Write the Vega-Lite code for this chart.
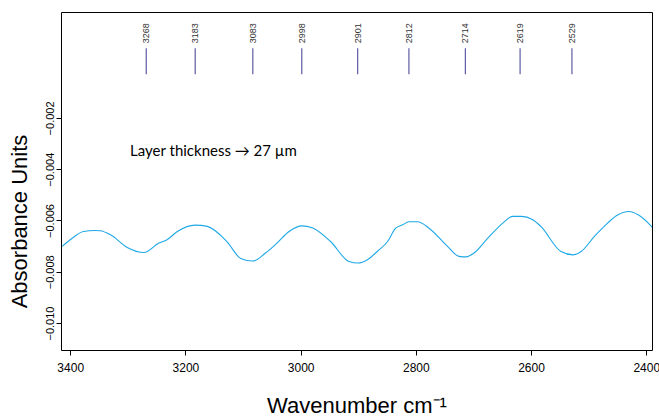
{
  "$schema": "https://vega.github.io/schema/vega-lite/v6.json",
  "autosize": "none",
  "width": 591,
  "height": 338,
  "padding": {"left": 61, "top": 12, "right": 7, "bottom": 67},
  "background": "white",
  "config": {
    "view": {"stroke": "black", "strokeWidth": 1},
    "font": "Liberation Sans"
  },
  "datasets": {
    "spectrum": [
      {"wn": 3414, "abs": -0.00701},
      {"wn": 3400, "abs": -0.00675},
      {"wn": 3377, "abs": -0.00643},
      {"wn": 3357, "abs": -0.00639},
      {"wn": 3348, "abs": -0.00640},
      {"wn": 3330, "abs": -0.00656},
      {"wn": 3301, "abs": -0.00705},
      {"wn": 3272, "abs": -0.00725},
      {"wn": 3246, "abs": -0.00688},
      {"wn": 3232, "abs": -0.00675},
      {"wn": 3214, "abs": -0.00643},
      {"wn": 3183, "abs": -0.00618},
      {"wn": 3162, "abs": -0.00623},
      {"wn": 3128, "abs": -0.00682},
      {"wn": 3104, "abs": -0.00748},
      {"wn": 3083, "abs": -0.00758},
      {"wn": 3061, "abs": -0.00727},
      {"wn": 3041, "abs": -0.00688},
      {"wn": 3020, "abs": -0.00643},
      {"wn": 2998, "abs": -0.00621},
      {"wn": 2980, "abs": -0.00628},
      {"wn": 2948, "abs": -0.00682},
      {"wn": 2916, "abs": -0.00760},
      {"wn": 2900, "abs": -0.00766},
      {"wn": 2884, "abs": -0.00753},
      {"wn": 2867, "abs": -0.00721},
      {"wn": 2849, "abs": -0.00682},
      {"wn": 2835, "abs": -0.00630},
      {"wn": 2823, "abs": -0.00617},
      {"wn": 2812, "abs": -0.00605},
      {"wn": 2797, "abs": -0.00605},
      {"wn": 2777, "abs": -0.00630},
      {"wn": 2745, "abs": -0.00701},
      {"wn": 2725, "abs": -0.00740},
      {"wn": 2713, "abs": -0.00742},
      {"wn": 2699, "abs": -0.00727},
      {"wn": 2675, "abs": -0.00669},
      {"wn": 2649, "abs": -0.00610},
      {"wn": 2632, "abs": -0.00584},
      {"wn": 2617, "abs": -0.00584},
      {"wn": 2597, "abs": -0.00597},
      {"wn": 2583, "abs": -0.00623},
      {"wn": 2548, "abs": -0.00721},
      {"wn": 2527, "abs": -0.00734},
      {"wn": 2513, "abs": -0.00721},
      {"wn": 2490, "abs": -0.00662},
      {"wn": 2467, "abs": -0.00610},
      {"wn": 2449, "abs": -0.00578},
      {"wn": 2430, "abs": -0.00565},
      {"wn": 2414, "abs": -0.00578},
      {"wn": 2388, "abs": -0.00630}
    ],
    "peaks": [
      {"wn": 3268}, {"wn": 3183}, {"wn": 3083}, {"wn": 2998}, {"wn": 2901},
      {"wn": 2812}, {"wn": 2714}, {"wn": 2619}, {"wn": 2529}
    ],
    "note": [
      {"wn": 3296, "abs": -0.00347, "label": "Layer thickness → 27 µm"}
    ]
  },
  "layer": [
    {
      "data": {"name": "spectrum"},
      "mark": {"type": "line", "color": "#1ea8e6", "strokeWidth": 1.1, "clip": true, "interpolate": "monotone"},
      "encoding": {
        "x": {
          "field": "wn", "type": "quantitative",
          "scale": {"domain": [3416, 2390], "nice": false, "zero": false},
          "axis": {
            "values": [3400, 3200, 3000, 2800, 2600, 2400],
            "format": "d",
            "domain": false, "grid": false,
            "tickSize": 5, "tickColor": "black",
            "labelFontSize": 12, "labelColor": "black", "labelPadding": 7,
            "labelFont": "Liberation Sans",
            "title": "Wavenumber cm⁻¹",
            "titleFont": "Liberation Sans", "titleFontSize": 22, "titleFontWeight": "normal",
            "titleColor": "black", "titleBaseline": "alphabetic", "titleY": 62
          }
        },
        "y": {
          "field": "abs", "type": "quantitative",
          "scale": {"domain": [-0.01105, 0.00213], "nice": false, "zero": false},
          "axis": {
            "values": [-0.002, -0.004, -0.006, -0.008, -0.010],
            "format": ".3f",
            "domain": false, "grid": false,
            "tickSize": 5, "tickColor": "black",
            "labelFontSize": 11, "labelColor": "black", "labelPadding": 3,
            "labelAngle": -90, "labelAlign": "center", "labelBaseline": "alphabetic",
            "labelFont": "Liberation Sans",
            "title": "Absorbance Units",
            "titleFont": "Liberation Sans", "titleFontSize": 22, "titleFontWeight": "normal",
            "titleColor": "black", "titleAngle": -90, "titleAlign": "center",
            "titleBaseline": "middle", "titleX": -42, "titleY": 209
          }
        }
      }
    },
    {
      "data": {"name": "peaks"},
      "mark": {"type": "rule", "color": "#5c5ca6", "strokeWidth": 1.2},
      "encoding": {
        "x": {"field": "wn", "type": "quantitative"},
        "y": {"datum": 0.000715},
        "y2": {"datum": -0.0003}
      }
    },
    {
      "data": {"name": "peaks"},
      "mark": {"type": "text", "angle": 270, "align": "left", "baseline": "middle", "fontSize": 9, "color": "#333333", "font": "Liberation Sans"},
      "encoding": {
        "x": {"field": "wn", "type": "quantitative"},
        "y": {"datum": 0.00091},
        "text": {"field": "wn", "type": "nominal"}
      }
    },
    {
      "data": {"name": "note"},
      "mark": {"type": "text", "align": "left", "baseline": "alphabetic", "fontSize": 15, "color": "black", "font": "Lato"},
      "encoding": {
        "x": {"field": "wn", "type": "quantitative"},
        "y": {"field": "abs", "type": "quantitative"},
        "text": {"field": "label", "type": "nominal"}
      }
    }
  ]
}
